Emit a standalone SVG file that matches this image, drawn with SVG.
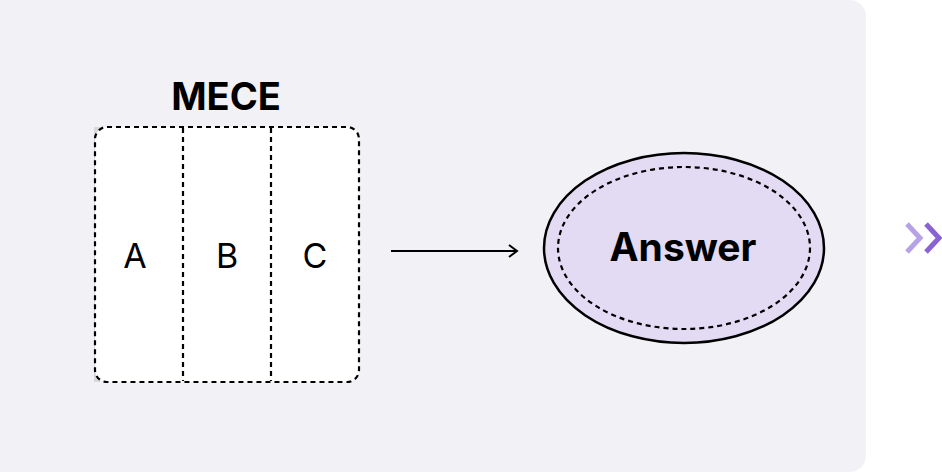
<svg xmlns="http://www.w3.org/2000/svg" width="942" height="474" viewBox="0 0 942 474">
<style>
.d{fill:none;stroke:#000;stroke-width:2.2;stroke-dasharray:5 4}
.t{font-family:Inter,"Liberation Sans",sans-serif;fill:#000}
</style>
<defs><marker id="ah" markerWidth="12" markerHeight="14" refX="10" refY="7" orient="auto" markerUnits="userSpaceOnUse"><path d="M2,1 L10,7 L2,13" fill="none" stroke="#000" stroke-width="2"/></marker></defs>
<rect x="-20" y="0" width="886" height="472" rx="16" fill="#f2f1f6"/>
<g id="mece">
<text class="t" x="226" y="110" font-size="38" font-weight="700" text-anchor="middle">MECE</text>
<rect x="94" y="127" width="6" height="255" fill="#d8d8dc"/>
<rect x="95" y="127" width="264" height="255" rx="12" fill="#fff"/>
<rect x="95" y="127" width="264" height="255" rx="12" class="d"/>
<line x1="183" y1="128" x2="183" y2="381" class="d"/>
<line x1="271" y1="128" x2="271" y2="381" class="d"/>
<text class="t" x="135" y="268" font-size="34" text-anchor="middle">A</text>
<text class="t" x="227" y="268" font-size="34" text-anchor="middle">B</text>
<text class="t" x="315" y="268" font-size="34" text-anchor="middle">C</text>
</g>
<g id="connectors"><line x1="391" y1="251" x2="517" y2="251" stroke="#000" stroke-width="2" marker-end="url(#ah)"/></g>
<g id="answer">
<ellipse cx="684" cy="248" rx="140" ry="95" fill="#e3daf3" stroke="#000" stroke-width="2.5"/>
<ellipse cx="684" cy="248" rx="126" ry="81" class="d"/>
<text class="t" x="683" y="261" font-size="39" font-weight="700" text-anchor="middle">Answer</text>
</g>
<g id="chevrons" fill="none" stroke-width="5">
<path d="M907,224 L920,238 L907,252" stroke="#b6a3e6"/>
<path d="M926,224 L939,238 L926,252" stroke="#8a63d2"/>
</g>
</svg>
